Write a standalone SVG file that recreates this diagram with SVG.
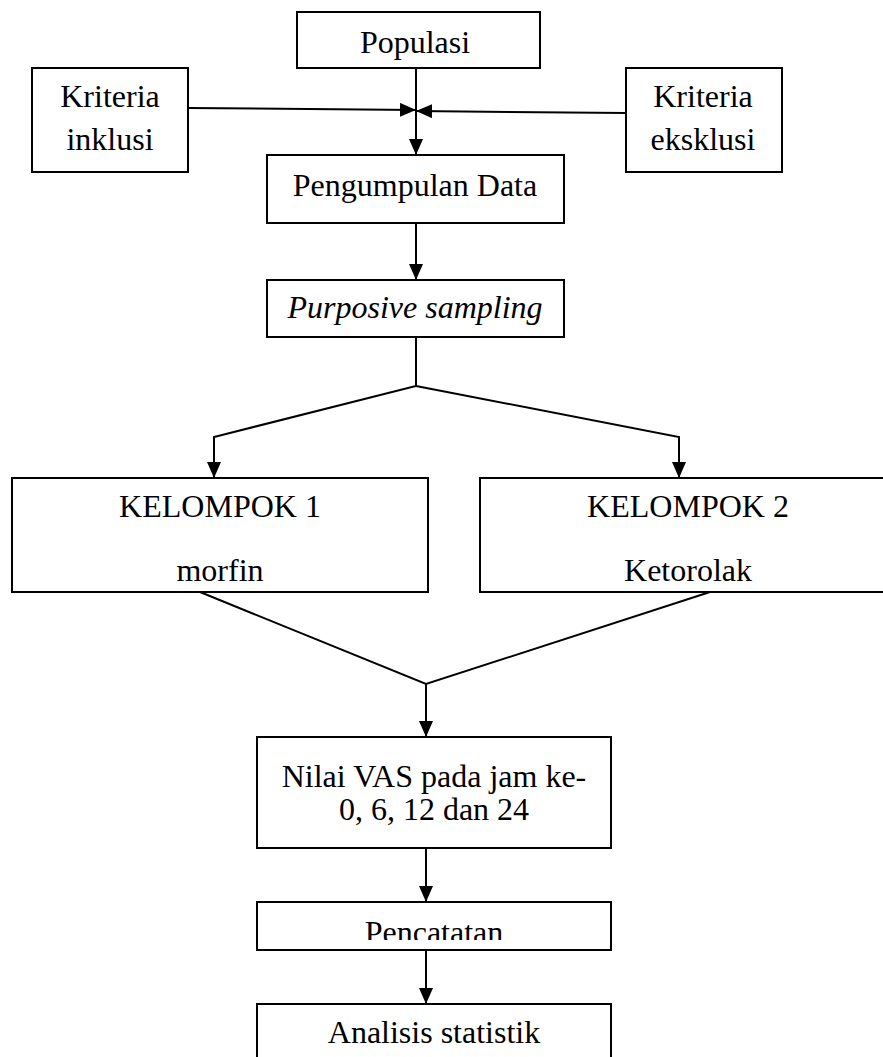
<svg xmlns="http://www.w3.org/2000/svg" width="883" height="1057" viewBox="0 0 883 1057">
<style>
.box{fill:#fff;stroke:#000;stroke-width:2}
.t{font-family:"Liberation Serif","Times New Roman",serif;font-size:32px;fill:#000;text-anchor:middle}
.i{font-style:italic}
.c{fill:none;stroke:#000;stroke-width:2}
</style>
<defs>
<marker id="ah" markerUnits="userSpaceOnUse" markerWidth="16" markerHeight="14" refX="16" refY="7" orient="auto">
<path d="M0,0 L16,7 L0,14 z" fill="#000"/>
</marker>
<clipPath id="pc"><rect x="258" y="903" width="352" height="37"/></clipPath>
</defs>
<rect width="883" height="1057" fill="#fff"/>
<g id="connectors">
<line class="c" x1="416" y1="68" x2="416" y2="155" marker-end="url(#ah)"/>
<line class="c" x1="188" y1="108" x2="416" y2="110" marker-end="url(#ah)"/>
<line class="c" x1="626" y1="113" x2="416" y2="111" marker-end="url(#ah)"/>
<line class="c" x1="416" y1="223" x2="416" y2="280" marker-end="url(#ah)"/>
<polyline class="c" points="416,337 416,386 214,437 214,478" marker-end="url(#ah)"/>
<polyline class="c" points="416,386 679,437 679,478" marker-end="url(#ah)"/>
<polyline class="c" points="200,592 426,684 710,592"/>
<line class="c" x1="426" y1="684" x2="426" y2="737" marker-end="url(#ah)"/>
<line class="c" x1="426" y1="848" x2="426" y2="902" marker-end="url(#ah)"/>
<line class="c" x1="426" y1="950" x2="426" y2="1004" marker-end="url(#ah)"/>
</g>
<g id="populasi"><rect class="box" x="297" y="12" width="243" height="56"/><text class="t" x="415" y="53">Populasi</text></g>
<g id="inklusi"><rect class="box" x="32" y="68" width="156" height="104"/><text class="t" x="110" y="107">Kriteria</text><text class="t" x="110" y="150">inklusi</text></g>
<g id="eksklusi"><rect class="box" x="626" y="68" width="156" height="104"/><text class="t" x="703" y="107">Kriteria</text><text class="t" x="703" y="150">eksklusi</text></g>
<g id="pengumpulan"><rect class="box" x="267" y="155" width="297" height="68"/><text class="t" x="415" y="196">Pengumpulan Data</text></g>
<g id="purposive"><rect class="box" x="267" y="280" width="297" height="57"/><text class="t i" x="415" y="318">Purposive sampling</text></g>
<g id="kelompok1"><rect class="box" x="12" y="478" width="416" height="114"/><text class="t" x="220" y="517">KELOMPOK 1</text><text class="t" x="220" y="581">morfin</text></g>
<g id="kelompok2"><rect class="box" x="480" y="478" width="416" height="114"/><text class="t" x="688" y="517">KELOMPOK 2</text><text class="t" x="688" y="581">Ketorolak</text></g>
<g id="nilai"><rect class="box" x="257" y="737" width="354" height="111"/><text class="t" x="434" y="787">Nilai VAS pada jam ke-</text><text class="t" x="434" y="820">0, 6, 12 dan 24</text></g>
<g id="pencatatan"><rect class="box" x="257" y="902" width="354" height="48"/><text class="t" x="434" y="943" clip-path="url(#pc)">Pencatatan</text></g>
<g id="analisis"><rect class="box" x="257" y="1004" width="354" height="70"/><text class="t" x="434" y="1043">Analisis statistik</text></g>
</svg>
